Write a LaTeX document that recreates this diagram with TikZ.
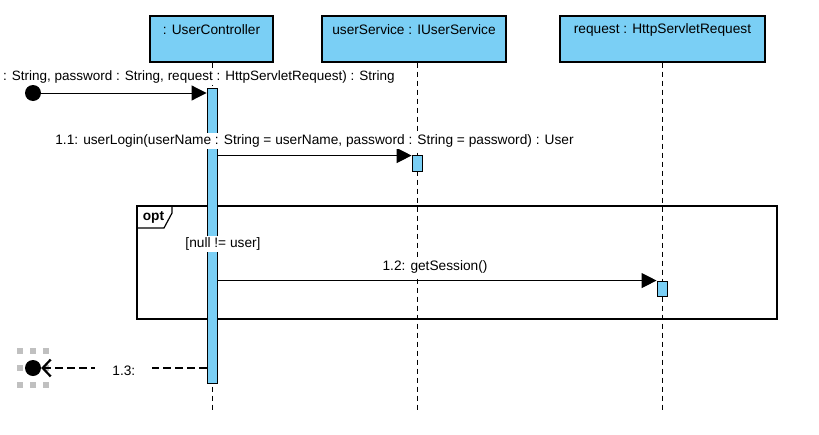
\documentclass[tikz,border=0pt]{standalone}
\usepackage{fontspec}
\setmainfont{Liberation Sans}
\usetikzlibrary{arrows.meta}
\definecolor{lifefill}{RGB}{122,207,245}
\definecolor{handle}{RGB}{192,192,192}
\begin{document}
\begin{tikzpicture}[x=1pt,y=-1pt,
  txt/.style={font=\fontsize{13.7}{16}\selectfont, inner sep=0pt},
  lbl/.style={txt, fill=white, inner xsep=1pt, inner ysep=2pt},
  headbox/.style={draw=black, line width=1.2pt, fill=lifefill, minimum height=46pt, inner sep=0pt},
  actbar/.style={draw=black, line width=0.9pt, fill=lifefill, minimum width=10pt, inner sep=0pt},
  lifeline/.style={draw=black, line width=1pt, dash pattern=on 5pt off 4pt},
  msg/.style={draw=black, line width=1pt, -{Triangle[length=15pt,width=15pt]}},
  retmsg/.style={draw=black, line width=2.6pt, dash pattern=on 8pt off 4pt, -{Straight Barb[length=8pt,width=17pt,line width=2.2pt]}},
  endpoint/.style={circle, fill=black, minimum size=16pt, inner sep=0pt},
  selhandle/.style={fill=handle, minimum size=6.5pt, inner sep=0pt},
  frame/.style={draw=black, line width=1.2pt}]
\useasboundingbox (0,0) rectangle (819,434);

% lifeline heads
\node[headbox, minimum width=123pt] (uc) at (211.5,39) {};
\node[txt] (ucname) at (211.5,30) {: UserController};
\node[headbox, minimum width=184pt] (us) at (414,39) {};
\node[txt] (usname) at (414,30) {userService : IUserService};
\node[headbox, minimum width=205pt] (rq) at (662.5,39) {};
\node[txt] (rqname) at (662.5,30) {request : HttpServletRequest};

% lifeline ends
\coordinate (ucend) at (212,410);
\coordinate (usend) at (417,410);
\coordinate (rqend) at (662,410);
\draw[lifeline] (uc.south -| ucend) -- (ucend);
\draw[lifeline] (us.south -| usend) -- (usend);
\draw[lifeline] (rq.south -| rqend) -- (rqend);

% combined fragment
\draw[frame] (137,206) rectangle (777,319);
\coordinate (optcorner) at (137,206);
\draw[frame] (optcorner) -- (172,206) -- (172,213) -- (164,228) -- (137,228);
\node[txt, font=\fontsize{13.7}{16}\selectfont\bfseries] (optlabel) at (153.5,217) {opt};

% activation bars
\node[actbar, minimum height=295pt] (a1) at (212,235.5) {};
\node[actbar, minimum height=16pt] (a2) at (417,163) {};
\node[actbar, minimum height=15pt] (a3) at (662,288.5) {};

% guard condition sits above the activation bar
\node[lbl] (guard) at (223,244) {[null != user]};

% found message
\node[endpoint] (found) at (33,93) {};
\draw[msg] (found) -- (found -| a1.west);
\node[lbl, font=\fontsize{13.5}{16}\selectfont, anchor=west] (m1label) at (2,77) {: String, password : String, request : HttpServletRequest) : String};

% synchronous calls
\draw[msg] ([yshift=-1pt]a2.north -| a1.east) -- ([yshift=-1pt]a2.north west);
\node[lbl] (m11label) at (314.5,141) {1.1: userLogin(userName : String = userName, password : String = password) : User};
\draw[msg] (a3.north -| a1.east) -- (a3.north west);
\node[lbl] (m12label) at (435,267) {1.2: getSession()};

% selection handles around the lost endpoint
\foreach \hx/\hy [count=\i] in {20/351,33/351,46/351,20/368,46/368,20/385,33/385,46/385}
  \node[selhandle] (h\i) at (\hx,\hy) {};

% lost message
\node[endpoint] (lost) at (33,368) {};
\draw[retmsg] (a1.west |- lost) -- node[txt, fill=white, inner xsep=17pt, inner ysep=4pt, yshift=-3pt] (m13label) {1.3:} (lost.east);
\end{tikzpicture}
\end{document}
